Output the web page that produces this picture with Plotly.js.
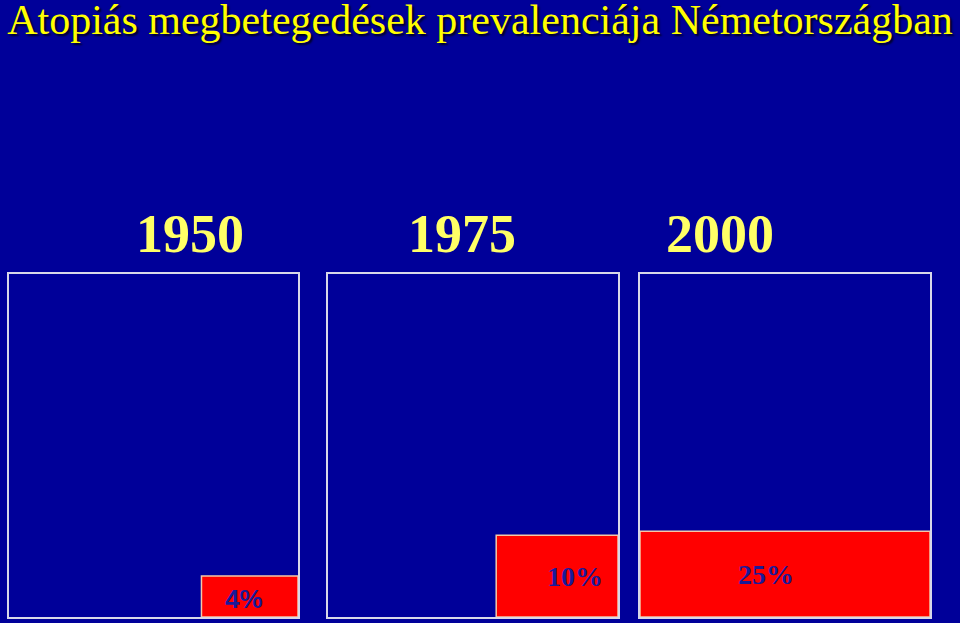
<!DOCTYPE html>
<html>
<head>
<meta charset="utf-8">
<script src="https://cdn.plot.ly/plotly-3.0.1.min.js"></script>
<style>html,body{margin:0;padding:0;background:#000099;}#chart{width:960px;height:623px;}</style>
</head>
<body>
<div id="chart"></div>
<script>
// Data
const titleText = "Atopiás megbetegedések prevalenciája Németországban";
const years = ["1950", "1975", "2000"];
const prevalence = [4, 10, 25];           // percent
const percentLabels = ["4%", "10%", "25%"];

// Styling / layout (not data)
const BG = "#000099";
const boxDomainsX = [[9/960, 298/960], [328/960, 618/960], [640/960, 930/960]];
const boxDomainY = [1 - 617/623, 1 - 274/623];
const redWidthFrac = [0.334, 0.42, 1.0];   // width of red area as fraction of box
const yearX = [190/960, 462/960, 720/960];
const labelShift = [-6, 18, -19];
const labelYShift = [-3, 0, 0];
const labelFonts = [
  {family: "Liberation Sans, Arial", size: 26, color: "#1a1a99", weight: "bold"},
  {family: "Liberation Serif, Times New Roman", size: 28, color: "#1a1a99", weight: "bold"},
  {family: "Liberation Serif, Times New Roman", size: 28, color: "#1a1a99", weight: "bold"}
];

const traces = [];
const annotations = [];
const layout = {
  width: 960, height: 623,
  margin: {l: 0, r: 0, t: 0, b: 0},
  paper_bgcolor: BG, plot_bgcolor: BG,
  showlegend: false,
  title: {
    text: titleText,
    x: 0.5, xanchor: "center", xref: "paper",
    y: 0.992, yanchor: "top", yref: "container",
    font: {family: "Liberation Serif, Times New Roman", size: 42, color: "#ffff00", shadow: "2px 2px 2px #000022"}
  },
  bargap: 0
};

years.forEach((yr, i) => {
  const ax = i === 0 ? "" : String(i + 1);
  const w = redWidthFrac[i];
  const h = prevalence[i] / 100 / w;
  traces.push({
    type: "bar",
    x: [1 - w / 2], y: [h], width: [w], base: [0],
    xaxis: "x" + ax, yaxis: "y" + ax,
    marker: {color: "#ff0000", line: {color: "#f4c8a8", width: 1.5}},
    hoverinfo: "skip"
  });
  const axCommon = {
    showline: true, mirror: true, linecolor: "#d8d8e8", linewidth: 2,
    showgrid: false, zeroline: false, showticklabels: false, ticks: "",
    fixedrange: true
  };
  layout["xaxis" + ax] = Object.assign({}, axCommon, {domain: boxDomainsX[i], range: [0, 1], anchor: "y" + ax});
  layout["yaxis" + ax] = Object.assign({}, axCommon, {domain: boxDomainY, range: [0, 1], anchor: "x" + ax});
  annotations.push({
    text: percentLabels[i],
    xref: "x" + ax, yref: "y" + ax,
    x: 1 - w / 2, y: h / 2,
    xshift: labelShift[i], yshift: labelYShift[i],
    showarrow: false,
    font: labelFonts[i]
  });
  annotations.push({
    text: "<b>" + yr + "</b>",
    xref: "paper", yref: "paper",
    x: yearX[i], y: 1 - 234/623,
    xanchor: "center", yanchor: "middle",
    showarrow: false,
    font: {family: "Liberation Serif, Times New Roman", size: 54, color: "#ffff66"}
  });
});
layout.annotations = annotations;

Plotly.newPlot("chart", traces, layout, {displayModeBar: false, staticPlot: true});
</script>
</body>
</html>
